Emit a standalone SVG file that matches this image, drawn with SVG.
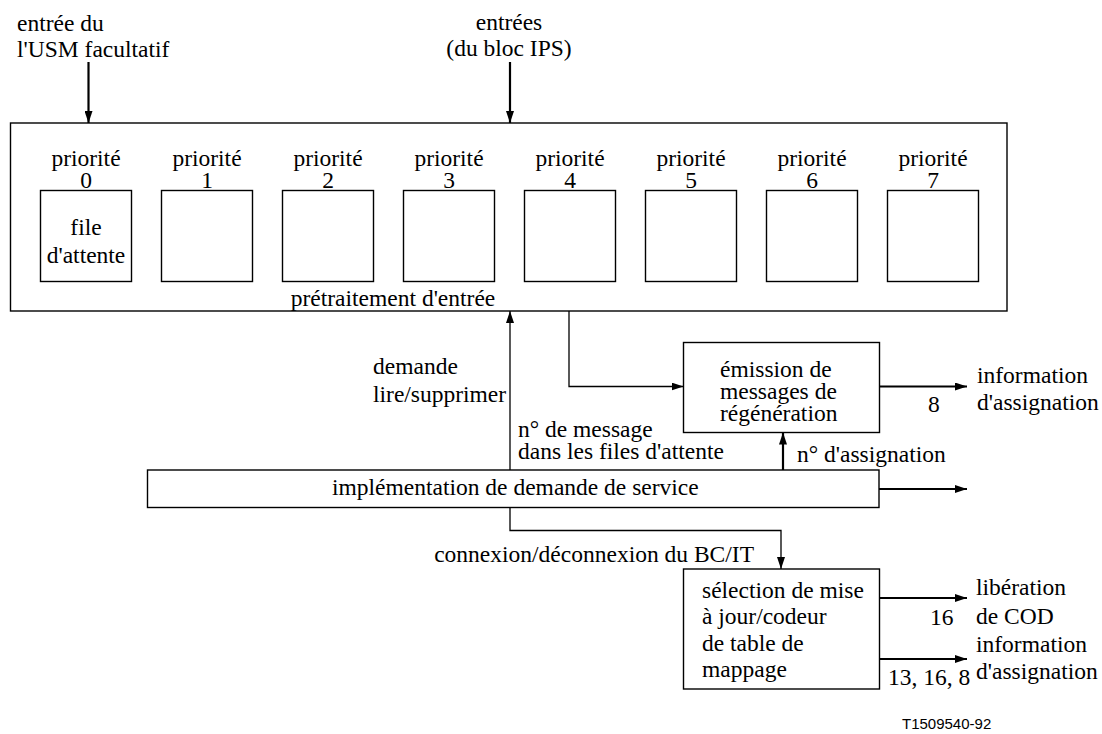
<svg xmlns="http://www.w3.org/2000/svg" width="1102" height="734" viewBox="0 0 1102 734">
<style>
  .t { font-family: "Liberation Serif", Tinos, "Times New Roman", Times, serif; font-size: 23.5px; fill: #000; }
  .m { text-anchor: middle; }
  .e { text-anchor: end; }
  .box { fill: #fff; stroke: #000; stroke-width: 1.4; }
  .ln { fill: none; stroke: #000; stroke-width: 1.3; }
  .th { fill: none; stroke: #000; stroke-width: 2.2; }
  .lab { font-family: "Liberation Sans", Arial, sans-serif; font-size: 15px; fill: #000; }
</style>
<defs>
  <marker id="ah" viewBox="0 0 12 8" refX="12" refY="4" markerWidth="12" markerHeight="8" markerUnits="userSpaceOnUse" orient="auto">
    <path d="M0,0 L12,4 L0,8 z" fill="#000"/>
  </marker>
</defs>
<rect width="1102" height="734" fill="#fff"/>

<g id="pretraitement">
  <rect class="box" x="10.5" y="123" width="996.5" height="188"/>
  <text class="t m" x="393" y="306">prétraitement d'entrée</text>
</g>
<g id="file0">
  <rect class="box" x="40.5" y="190.5" width="91" height="91"/>
  <text class="t m" x="86" y="166">priorité</text>
  <text class="t m" x="86" y="188">0</text>
  <text class="t m" x="86" y="235">file</text>
  <text class="t m" x="86" y="263">d'attente</text>
</g>
<g id="file1">
  <rect class="box" x="161.5" y="190.5" width="91" height="91"/>
  <text class="t m" x="207" y="166">priorité</text>
  <text class="t m" x="207" y="188">1</text>
</g>
<g id="file2">
  <rect class="box" x="282.5" y="190.5" width="91" height="91"/>
  <text class="t m" x="328" y="166">priorité</text>
  <text class="t m" x="328" y="188">2</text>
</g>
<g id="file3">
  <rect class="box" x="403.5" y="190.5" width="91" height="91"/>
  <text class="t m" x="449" y="166">priorité</text>
  <text class="t m" x="449" y="188">3</text>
</g>
<g id="file4">
  <rect class="box" x="524.5" y="190.5" width="91" height="91"/>
  <text class="t m" x="570" y="166">priorité</text>
  <text class="t m" x="570" y="188">4</text>
</g>
<g id="file5">
  <rect class="box" x="645.5" y="190.5" width="91" height="91"/>
  <text class="t m" x="691" y="166">priorité</text>
  <text class="t m" x="691" y="188">5</text>
</g>
<g id="file6">
  <rect class="box" x="766.5" y="190.5" width="91" height="91"/>
  <text class="t m" x="812" y="166">priorité</text>
  <text class="t m" x="812" y="188">6</text>
</g>
<g id="file7">
  <rect class="box" x="887.5" y="190.5" width="91" height="91"/>
  <text class="t m" x="933" y="166">priorité</text>
  <text class="t m" x="933" y="188">7</text>
</g>

<g id="emission">
  <rect class="box" x="683.5" y="342.5" width="196" height="90"/>
  <text class="t" x="720" y="377">émission de</text>
  <text class="t" x="720" y="399">messages de</text>
  <text class="t" x="720" y="421">régénération</text>
</g>

<g id="service">
  <rect class="box" x="147.5" y="470" width="731.5" height="37.5"/>
  <text class="t" x="332" y="495">implémentation de demande de service</text>
</g>

<g id="selection">
  <rect class="box" x="683.5" y="569" width="196" height="120"/>
  <text class="t" x="702" y="598">sélection de mise</text>
  <text class="t" x="702" y="624">à jour/codeur</text>
  <text class="t" x="702" y="651">de table de</text>
  <text class="t" x="702" y="677">mappage</text>
</g>

<g id="connectors">
  <line class="th" x1="88.5" y1="62" x2="88.5" y2="123" marker-end="url(#ah)"/>
  <line class="th" x1="510" y1="62" x2="510" y2="123" marker-end="url(#ah)"/>
  <line class="ln" x1="510" y1="470" x2="510" y2="311" marker-end="url(#ah)"/>
  <polyline class="ln" points="569,311 569,386.5 683.5,386.5" marker-end="url(#ah)"/>
  <line class="th" x1="879.5" y1="386.5" x2="967" y2="386.5" marker-end="url(#ah)"/>
  <line class="th" x1="783" y1="470" x2="783" y2="432.5" marker-end="url(#ah)"/>
  <line class="th" x1="879" y1="489" x2="967" y2="489" marker-end="url(#ah)"/>
  <polyline class="ln" points="510,507.5 510,530.5 781,530.5 781,569" marker-end="url(#ah)"/>
  <line class="th" x1="879.5" y1="598" x2="967" y2="598" marker-end="url(#ah)"/>
  <line class="th" x1="879.5" y1="659" x2="967" y2="659" marker-end="url(#ah)"/>
</g>

<g id="labels">
  <text class="t" x="17" y="31">entrée du</text>
  <text class="t" x="17" y="57">l'USM facultatif</text>
  <text class="t m" x="509" y="30">entrées</text>
  <text class="t m" x="509" y="56">(du bloc IPS)</text>
  <text class="t" x="373" y="374">demande</text>
  <text class="t" x="373" y="402">lire/supprimer</text>
  <text class="t" x="518" y="437">n° de message</text>
  <text class="t" x="518" y="459">dans les files d'attente</text>
  <text class="t" x="928" y="412">8</text>
  <text class="t" x="977" y="383">information</text>
  <text class="t" x="977" y="410">d'assignation</text>
  <text class="t" x="797" y="462">n° d'assignation</text>
  <text class="t e" x="754" y="562">connexion/déconnexion du BC/IT</text>
  <text class="t" x="976" y="595">libération</text>
  <text class="t" x="976" y="624">de COD</text>
  <text class="t" x="930" y="625">16</text>
  <text class="t" x="976" y="652">information</text>
  <text class="t" x="976" y="679">d'assignation</text>
  <text class="t" x="888" y="685">13, 16, 8</text>
  <text class="lab" x="902" y="729">T1509540-92</text>
</g>
</svg>
